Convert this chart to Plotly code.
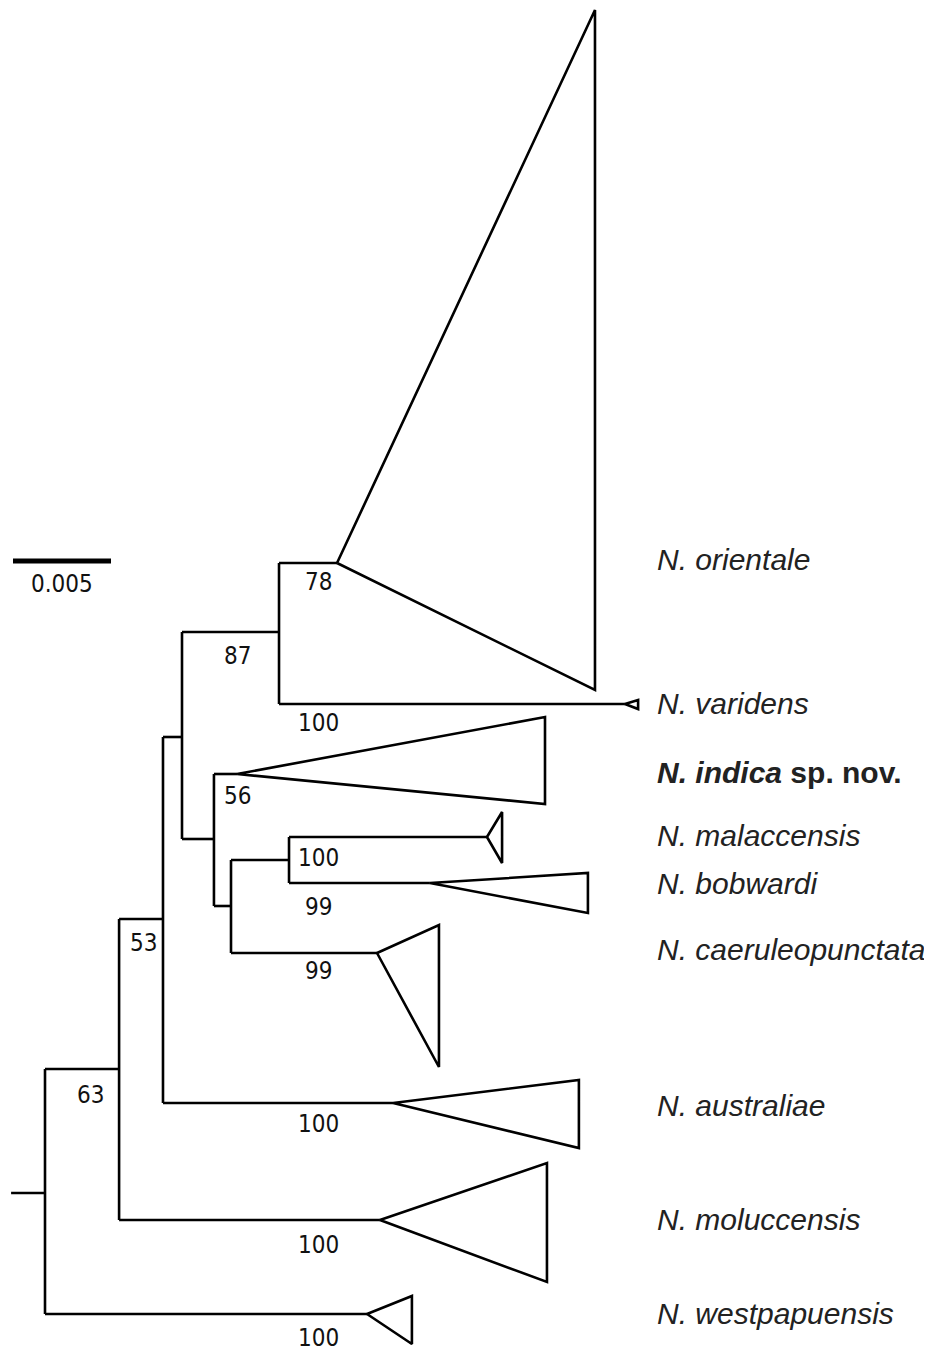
import plotly.graph_objects as go

# ---- data (branch depths in substitutions/site, from root) ----
internal_names = ["root", "N63", "N53", "Nx", "N87", "Ny", "Nz", "N100"]
internal_parent = [None, "root", "N63", "N53", "Nx", "Nx", "Ny", "Nz"]
internal_depth = [0.0, 0.00378, 0.00602, 0.00699, 0.01194, 0.00862, 0.00949, 0.01245]
internal_row = [1193, 1069, 919, 737, 632, 839, 906, 860]
internal_support = [None, "63", "53", None, "87", "56", None, "100"]

clade_names = ["N. orientale", "N. varidens", "N. indica", "N. malaccensis", "N. bobwardi",
               "N. caeruleopunctata", "N. australiae", "N. moluccensis", "N. westpapuensis"]
clade_parent = ["N87", "N87", "Ny", "N100", "N100", "Nz", "N53", "N63", "root"]
clade_stem_depth = [0.01490, 0.02959, 0.00980, 0.02255, 0.01964, 0.01694, 0.01776, 0.01709, 0.01643]
clade_tip_depth = [0.02806, 0.03026, 0.02551, 0.02332, 0.02770, 0.02010, 0.02724, 0.02561, 0.01872]
clade_row = [563, 704, 774, 837, 883, 953, 1103, 1220, 1314]
clade_top = [10, 700, 717, 812, 873, 925, 1080, 1163, 1296]
clade_bottom = [690, 709, 804, 863, 913, 1067, 1148, 1282, 1344]
clade_support = ["78", "100", None, None, "99", "99", "100", "100", "100"]

scale_length = 0.005
root_stub = 0.00173

# ---- layout helpers ----
PX = 0.005 / 98.0          # data units per pixel
X0 = -45 * PX              # data value at left edge of the page
OFF = 8                    # page body margin compensation
def ux(px):
    return X0 + px * PX

depth = dict(zip(internal_names, internal_depth))
row = dict(zip(internal_names, internal_row))

xs, ys = [], []
def seg(pts):
    for p in pts:
        xs.append(p[0]); ys.append(p[1])
    xs.append(None); ys.append(None)

# root stub
seg([(-root_stub, row["root"]), (0.0, row["root"])])

children_rows = {n: [] for n in internal_names}
for n, p in zip(internal_names, internal_parent):
    if p is not None:
        children_rows[p].append(row[n])
        seg([(depth[p], row[n]), (depth[n], row[n])])
for p, r in zip(clade_parent, clade_row):
    children_rows[p].append(r)
for n in internal_names:
    rs = children_rows[n]
    seg([(depth[n], min(rs)), (depth[n], max(rs))])

for p, s, t, r, top, bot in zip(clade_parent, clade_stem_depth, clade_tip_depth,
                                clade_row, clade_top, clade_bottom):
    seg([(depth[p], r), (s, r)])
    seg([(s, r), (t, top), (t, bot), (s, r)])

fig = go.Figure()
fig.add_trace(go.Scatter(x=xs, y=ys, mode="lines",
                         line=dict(color="black", width=2.6),
                         hoverinfo="skip", showlegend=False))

# scale bar
fig.add_trace(go.Scatter(x=[ux(13), ux(13) + scale_length], y=[561, 561], mode="lines",
                         line=dict(color="black", width=5), hoverinfo="skip",
                         showlegend=False))

num_font = dict(family="Liberation Sans Narrow, Arial Narrow, DejaVu Sans Condensed, Liberation Sans",
                size=24, color="#111111")
ann = []
ann.append(dict(x=ux(62), y=584, text="0.005", showarrow=False, font=num_font,
                xanchor="center", yanchor="middle"))

int_label_pos = {"N63": (90, 1095), "N53": (143, 943), "N87": (237, 656),
                 "Ny": (237, 796), "N100": (318, 858)}
for n, s in zip(internal_names, internal_support):
    if s is not None:
        px, py = int_label_pos[n]
        ann.append(dict(x=ux(px), y=py, text=s, showarrow=False, font=num_font,
                        xanchor="center", yanchor="middle"))
clade_label_rows = [582, 723, None, None, 907, 971, 1124, 1245, 1338]
for s, ly in zip(clade_support, clade_label_rows):
    if s is not None:
        ann.append(dict(x=ux(318), y=ly, text=s, showarrow=False, font=num_font,
                        xanchor="center", yanchor="middle"))

name_rows = [559, 703, 772, 835, 883, 949, 1105, 1219, 1313]
name_font = dict(family="Liberation Sans, Arial, Helvetica", size=30, color="#222222")
for nm, ly in zip(clade_names, name_rows):
    if nm == "N. indica":
        txt = "<b><i>N. indica</i> sp. nov.</b>"
    else:
        txt = "<i>" + nm + "</i>"
    ann.append(dict(x=ux(655), y=ly, text=txt, showarrow=False, font=name_font,
                    xanchor="left", yanchor="middle"))

fig.update_layout(
    width=932, height=1354,
    margin=dict(l=0, r=0, t=0, b=0),
    paper_bgcolor="white", plot_bgcolor="white",
    xaxis=dict(range=[ux(OFF), ux(932 + OFF)], visible=False, fixedrange=True),
    yaxis=dict(range=[1354 + OFF, OFF], visible=False, fixedrange=True),
    annotations=ann,
    showlegend=False,
)
fig.write_html("out.html")
